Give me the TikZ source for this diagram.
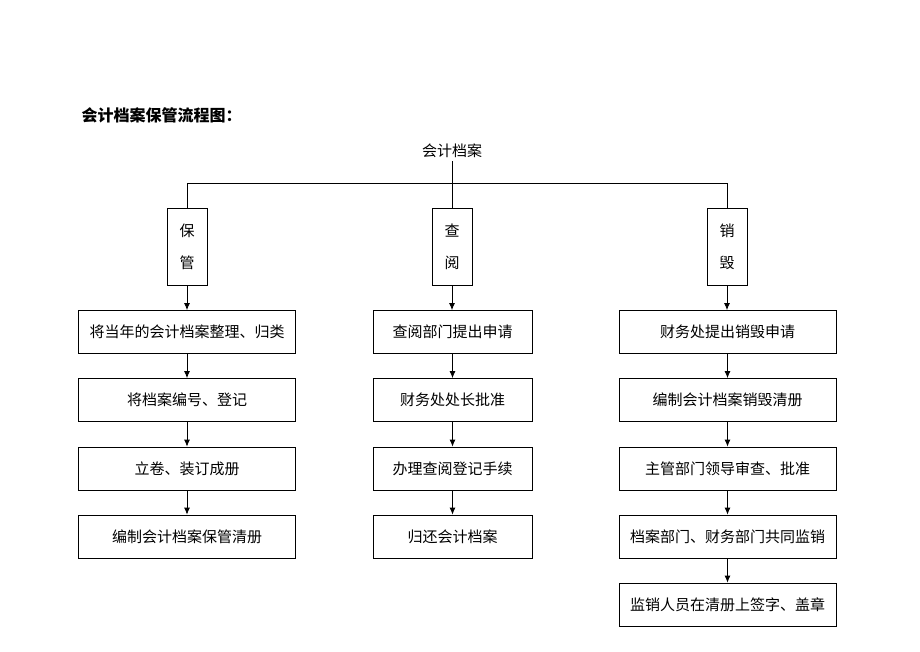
\documentclass[tikz,border=0pt]{standalone}
\usepackage{fontspec}
\setmainfont{Noto Sans CJK SC}
\usetikzlibrary{arrows.meta}
\tikzset{
  stepbox/.style={draw, line width=0.8pt, minimum height=43pt, inner sep=0pt},
  sidebox/.style={draw, line width=0.8pt, minimum width=40pt, minimum height=77pt, align=center, inner sep=0pt},
  flow/.style={line width=0.8pt, -{Latex[length=7pt,width=6pt]}},
  link/.style={line width=0.8pt}
}

\begin{document}
\begin{tikzpicture}[x=1pt,y=-1pt,font=\fontsize{15}{18}\selectfont]
      \useasboundingbox (0,0) rectangle (920,651);
      \node[anchor=west,font=\fontsize{16}{19}\selectfont\bfseries] (title) at (78,115) {会计档案保管流程图：};
      \node (top) at (452,151) {会计档案};
      % three branches
      \node[sidebox] (keep) at (187,246.5) {保\\[14pt]管};
      \node[sidebox] (query) at (452,246.5) {查\\[14pt]阅};
      \node[sidebox] (destroy) at (727,246.5) {销\\[14pt]毁};
      \coordinate (bus) at (452,183);
      \coordinate (busL) at (187,183);
      \coordinate (busR) at (727,183);
      \draw[link] (top) -- (bus);
      \draw[link] (busL) -- (busR);
      \draw[link] (busL) -- (keep);
      \draw[link] (bus) -- (query);
      \draw[link] (busR) -- (destroy);
      % left column
      \node[stepbox,minimum width=217pt] (k1) at (187,332) {将当年的会计档案整理、归类};
      \node[stepbox,minimum width=217pt] (k2) at (187,400) {将档案编号、登记};
      \node[stepbox,minimum width=217pt] (k3) at (187,468.5) {立卷、装订成册};
      \node[stepbox,minimum width=217pt] (k4) at (187,536.5) {编制会计档案保管清册};
      % middle column
      \node[stepbox,minimum width=159pt] (q1) at (452.5,332) {查阅部门提出申请};
      \node[stepbox,minimum width=159pt] (q2) at (452.5,400) {财务处处长批准};
      \node[stepbox,minimum width=159pt] (q3) at (452.5,468.5) {办理查阅登记手续};
      \node[stepbox,minimum width=159pt] (q4) at (452.5,536.5) {归还会计档案};
      % right column
      \node[stepbox,minimum width=217pt] (d1) at (727.5,332) {财务处提出销毁申请};
      \node[stepbox,minimum width=217pt] (d2) at (727.5,400) {编制会计档案销毁清册};
      \node[stepbox,minimum width=217pt] (d3) at (727.5,468.5) {主管部门领导审查、批准};
      \node[stepbox,minimum width=217pt] (d4) at (727.5,536.5) {档案部门、财务部门共同监销};
      \node[stepbox,minimum width=217pt] (d5) at (727.5,604.5) {监销人员在清册上签字、盖章};
      \draw[flow] (keep) -- (keep |- k1.north);
      \draw[flow] (query) -- (query |- q1.north);
      \draw[flow] (destroy) -- (destroy |- d1.north);
      \foreach \a/\b in {k1/k2,k2/k3,k3/k4,q1/q2,q2/q3,q3/q4,d1/d2,d2/d3,d3/d4,d4/d5}
        \draw[flow] (\a) -- (\b);
\end{tikzpicture}
\end{document}
